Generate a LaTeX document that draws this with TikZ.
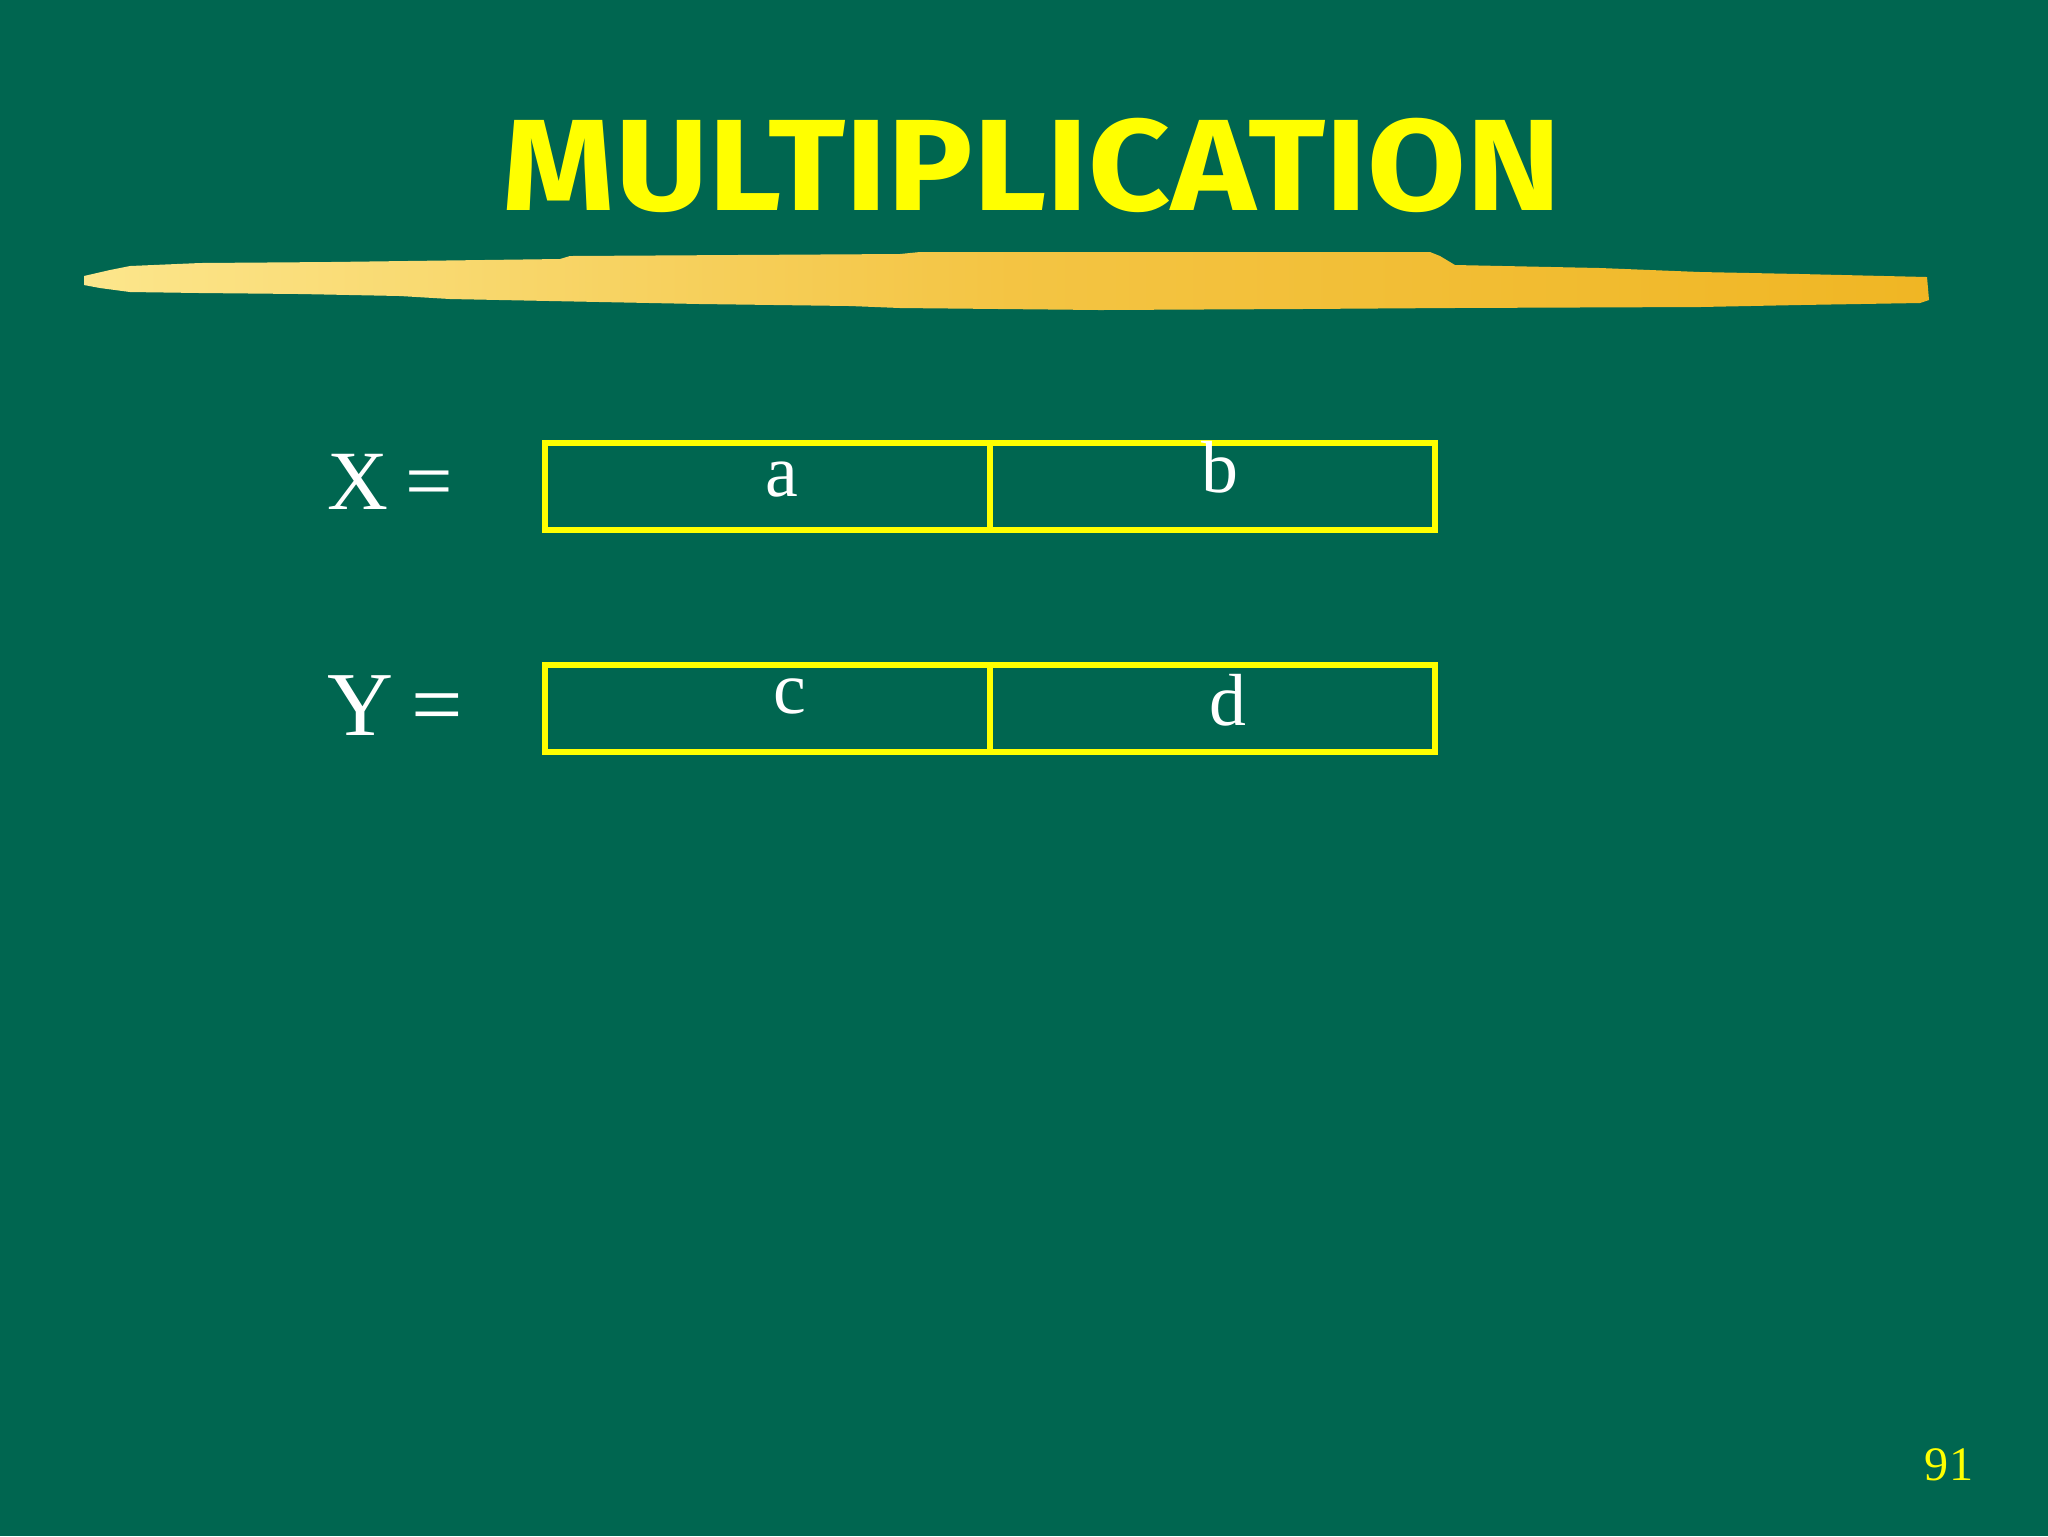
\documentclass[tikz,border=0pt]{standalone}
\usepackage{fontspec}
\setmainfont{Liberation Serif}
\newfontfamily\headfont{Fira Sans}
\usetikzlibrary{positioning}
\definecolor{board}{RGB}{0,102,80}
\definecolor{chalky}{RGB}{255,255,0}
\definecolor{goldl}{RGB}{252,230,140}
\definecolor{goldd}{RGB}{240,182,36}
\tikzset{
  cell/.style={draw=chalky, line width=1.7pt, minimum width=44.5mm,
               minimum height=8.7mm, inner sep=0pt, outer sep=0pt},
  letter/.style={text=white, anchor=base, inner sep=0pt, font=\fontsize{21}{24}\selectfont},
  lhs/.style={text=white, anchor=base west, inner sep=0pt},
}
% one register: two cells side by side, left cell named #1, right #2
\newcommand{\reg}[3]{
\node[cell, anchor=north west] (#1) at (545,#3) {};
\node[cell, right=0pt of #1] (#2) {};
}

\begin{document}
\begin{tikzpicture}[x=0.1mm, y=-0.1mm]
\useasboundingbox (0,0) rectangle (2048,1536);
\fill[board] (0,0) rectangle (2048,1536);

% title
\node[text=chalky, anchor=base, inner sep=0pt, xscale=1.1,
      font=\headfont\bfseries\fontsize{37}{40}\selectfont] (title) at (1032,210) {MULTIPLICATION};

% brush stroke under the title
\shade[left color=goldl, right color=goldd, middle color=goldd!70!goldl]
  (84,276) -- (110,270) -- (130,266) -- (200,263) -- (330,262) -- (560,259)
  -- (570,256) -- (900,254) -- (920,252) -- (1430,252) -- (1440,256)
  -- (1455,265) -- (1600,268) -- (1700,272) -- (1800,274) -- (1927,277)
  -- (1929,300) -- (1920,303) -- (1800,305) -- (1700,307) -- (1450,308)
  -- (1300,309) -- (1100,310) -- (900,308) -- (850,306) -- (700,304)
  -- (600,302) -- (450,299) -- (400,296) -- (300,294) -- (200,293)
  -- (130,292) -- (100,288) -- (84,285) -- cycle;

% X
\reg{xa}{xb}{443}
\node[lhs, font=\fontsize{24}{28}\selectfont] (xlab) at (327,509) {X\kern-0.05em\ =};
\node[letter] (a) at (782,496) {a};
\node[letter] (b) at (1220,492) {b};

% Y
\reg{yc}{yd}{665}
\node[lhs, font=\fontsize{26}{30}\selectfont] (ylab) at (327,735) {Y\kern-0.05em\ =};
\node[letter] (c) at (790,713) {c};
\node[letter] (d) at (1228,725) {d};

% page number
\node[text=chalky, anchor=base, inner sep=0pt, font=\fontsize{13.7}{16}\selectfont] (pg) at (1949,1480) {91};
\end{tikzpicture}
\end{document}
